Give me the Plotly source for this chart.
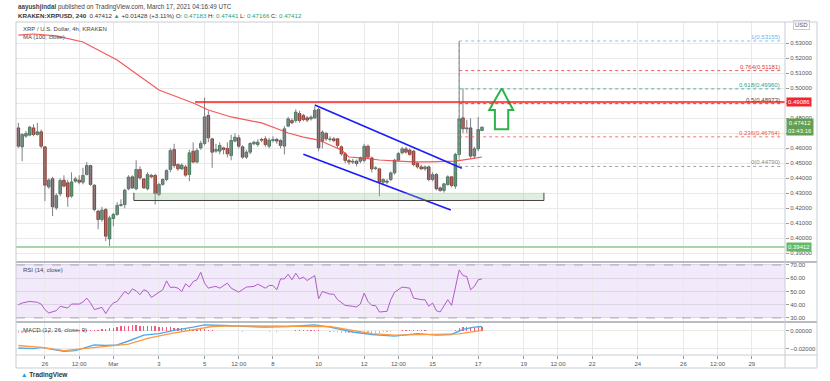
import pandas as pd
import plotly.graph_objects as go

# ---------------- data ----------------
opens = [.4736,.4610,.4681,.4688,.4736,.4692,.4710,.4610,.4343,.4397,.4203,.4296,.4388,.4370,.4281,.4381,.4388,.4374,.4425,.4485,
         .4354,.4181,.4125,.4192,.3996,.4132,.4159,.4219,.4225,.4330,.4410,.4330,.4459,.4396,.4330,.4419,.4419,.4292,.4359,.4392,
         .4459,.4592,.4492,.4463,.4476,.4425,.4581,.4508,.4603,.4632,.4819,.4663,.4581,.4581,.4603,.4599,.4552,.4648,.4670,.4610,
         .4541,.4574,.4630,.4625,.4659,.4663,.4614,.4652,.4659,.4652,.4614,.4748,.4785,.4785,.4832,.4819,.4803,.4796,.4803,.4859,
         .4648,.4699,.4659,.4663,.4663,.4610,.4563,.4519,.4508,.4514,.4514,.4519,.4614,.4536,.4465,.4463,.4374,.4381,.4392,.4436,
         .4521,.4570,.4596,.4588,.4581,.4499,.4476,.4463,.4476,.4392,.4425,.4336,.4319,.4359,.4410,.4348,.4559,.4803,.4730,.4736,
         .4548,.4596,.47183]
highs = [.4770,.4700,.4715,.4750,.4760,.4770,.4725,.4614,.4400,.4410,.4300,.4400,.4420,.4390,.4440,.4410,.4420,.4470,.4508,.4490,
         .4360,.4190,.4210,.4203,.4150,.4170,.4240,.4260,.4330,.4420,.4420,.4520,.4480,.4400,.4440,.4430,.4430,.4370,.4400,.4460,
         .4600,.4630,.4500,.4500,.4490,.4590,.4640,.4600,.4650,.4938,.4850,.4670,.4630,.4640,.4610,.4640,.4690,.4700,.4690,.4620,
         .4590,.4640,.4650,.4660,.4670,.4680,.4670,.4680,.4670,.4660,.4748,.4810,.4800,.4860,.4850,.4830,.4815,.4820,.4880,.4870,
         .4720,.4710,.4680,.4675,.4670,.4620,.4575,.4530,.4530,.4525,.4545,.4630,.4625,.4545,.4480,.4470,.4400,.4395,.4445,.4530,
         .4575,.4610,.4610,.4600,.4590,.4510,.4490,.4485,.4485,.4440,.4435,.4345,.4370,.4420,.4415,.4570,.5316,.5000,.4790,.4800,
         .4610,.4809,.47441]
lows = [.4603,.4514,.4670,.4680,.4680,.4685,.4600,.4248,.4330,.4148,.4190,.4280,.4340,.4210,.4270,.4370,.4360,.4360,.4420,.4350,
        .4180,.4060,.4110,.3981,.3936,.4080,.4150,.4210,.4200,.4320,.4330,.4320,.4390,.4330,.4320,.4400,.4225,.4280,.4350,.4380,
        .4440,.4470,.4450,.4455,.4410,.4380,.4500,.4500,.4590,.4620,.4640,.4470,.4570,.4560,.4560,.4540,.4520,.4640,.4600,.4530,
        .4530,.4560,.4620,.4610,.4640,.4610,.4600,.4640,.4630,.4600,.4559,.4740,.4760,.4770,.4770,.4780,.4775,.4785,.4795,.4580,
        .4600,.4650,.4645,.4640,.4600,.4550,.4500,.4490,.4495,.4480,.4500,.4505,.4530,.4440,.4455,.4280,.4360,.4360,.4380,.4425,
        .4510,.4560,.4565,.4550,.4480,.4465,.4455,.4450,.4380,.4380,.4320,.4310,.4305,.4350,.4340,.4330,.4540,.4700,.4700,.4530,
        .4530,.4580,.47166]
closes = [.4614,.4692,.4699,.4741,.4692,.4710,.4614,.4354,.4388,.4210,.4285,.4385,.4348,.4276,.4376,.4396,.4374,.4419,.4485,.4359,
          .4192,.4125,.4188,.4014,.4136,.4159,.4219,.4225,.4321,.4408,.4336,.4459,.4403,.4336,.4425,.4410,.4299,.4359,.4392,.4452,
          .4585,.4485,.4463,.4488,.4421,.4570,.4508,.4585,.4632,.4810,.4670,.4574,.4592,.4619,.4592,.4563,.4652,.4674,.4614,.4541,
          .4574,.4632,.4641,.4641,.4654,.4625,.4654,.4659,.4648,.4619,.4730,.4796,.4770,.4841,.4785,.4792,.4788,.4808,.4854,.4603,
          .4708,.4663,.4663,.4652,.4619,.4563,.4519,.4508,.4514,.4499,.4536,.4614,.4541,.4463,.4470,.4374,.4392,.4374,.4436,.4521,
          .4565,.4596,.4574,.4559,.4492,.4476,.4463,.4476,.4392,.4425,.4330,.4319,.4363,.4410,.4352,.4559,.4796,.4730,.4736,.4548,
          .4596,.4725,.47412]

ma_idx = [0, 4, 10, 17, 26, 37, 46, 50, 56, 64, 69, 71, 75, 79, 85, 87, 91, 95, 100, 104, 108, 113, 115, 119, 122]
ma_val = [0.5355, 0.5362, 0.5349, 0.5309, 0.5189, 0.4989, 0.4902, 0.4855, 0.4809, 0.4769, 0.4722, 0.4702, 0.4675,
          0.4655, 0.4589, 0.4542, 0.4535, 0.4522, 0.4515, 0.4509, 0.4509, 0.4515, 0.4515, 0.4529, 0.4542]

rsi_idx = [0,1,3,5,6,7,8,10,11,13,14,16,17,18,19,20,22,23,24,25,26,28,29,30,31,32,33,34,35,37,38,39,40,41,42,43,44,45,46,47,
           48,49,50,51,52,53,55,56,58,60,62,63,65,66,67,68,69,70,71,72,73,74,75,76,77,78,79,80,82,83,84,86,88,89,90,91,92,93,
           94,95,97,98,99,101,103,104,106,107,108,109,110,111,113,114,116,117,118,119,120,121,122]
rsi_val = [40,41.3,42.5,41.8,40.5,36.3,33.8,35.5,38.8,37.5,40.5,40.5,42,45,41.3,36.3,38,33.3,38,41.3,42.5,50,48,52,50.5,47.5,
           51.3,50,45.5,49.5,51.3,58,53,53.3,52.5,50,55.8,53.3,57.5,58.8,64.5,56.3,52.5,53.3,53.8,52.5,56.3,52.5,49.5,53.3,53.8,
           55.5,52.5,54.5,54.5,51.3,59.5,59.5,63,58.8,63.8,59.5,60.8,58.3,60,62,44.5,50,48,48,43.8,39.5,38.8,38.3,40.5,48.8,42.5,
           39.5,39.3,34.5,35,43.8,49.5,53.3,52.5,45,43.8,43.8,38.8,41.3,35.5,34.5,43.8,39.5,66.3,62,61.3,51.3,53.8,58.8,59.5]

macd_idx = [0, 4, 6, 9, 12, 15, 18, 20, 23, 26, 29, 33, 37, 41, 46, 49, 54, 60, 65, 71, 78, 82, 88, 93, 99, 105, 110, 114, 117, 120, 122]
macd_val = [-0.0189, -0.0196, -0.0182, -0.0207, -0.0225, -0.0218, -0.0182, -0.0154, -0.0161, -0.0154, -0.0111, -0.0046,
            -0.0029, 0.0007, 0.0043, 0.0068, 0.0061, 0.0054, 0.0043, 0.0050, 0.0068, 0.0043, -0.0011, -0.0039, -0.0057,
            -0.0029, -0.0046, -0.0039, 0.0018, 0.0043, 0.0050]
signal_idx = [0, 6, 12, 18, 23, 29, 34, 40, 46, 51, 57, 65, 74, 82, 88, 93, 99, 105, 110, 116, 122]
signal_val = [-0.0161, -0.0182, -0.0218, -0.0196, -0.0171, -0.0146, -0.0082, -0.0029, 0.0018, 0.0050, 0.0057, 0.0054,
              0.0050, 0.0050, 0.0007, -0.0029, -0.0046, -0.0039, -0.0039, -0.0032, 0.0007]
hist_val = [-2.5,-2.6,-2.4,-2.2,-2.0,-1.8,-1.5,-1.5,-1.8,-1.6,-1.2,-0.8,-0.5,-0.6,-0.3,0.2,0.8,1.2,1.6,1.3,1.0,1.5,2.0,2.3,
            2.8,3.2,4.0,5.0,5.5,6.0,6.5,6.2,5.8,6.0,5.5,5.0,5.2,4.8,4.2,4.5,4.0,3.5,3.2,2.8,2.6,2.2,2.0,2.2,2.5,1.8,1.2,0.8,
            0.5,0.3,0.2,0.0,-0.2,-0.4,-0.5,-0.6,-0.4,-0.3,-0.2,-0.3,-0.4,-0.5,-0.6,-0.5,-0.6,-0.3,0.0,0.3,0.5,0.7,0.8,1.0,1.2,
            1.4,1.6,0.8,0.2,-0.3,-0.8,-1.2,-1.6,-2.0,-2.3,-2.5,-2.6,-2.4,-2.2,-1.8,-1.8,-1.7,-1.8,-1.9,-1.6,-1.2,-0.8,-0.2,
            0.4,0.9,1.2,1.3,1.1,0.9,0.8,0.7,0.4,0.2,0.0,-0.2,0.2,0.3,0.2,1.5,3.5,4.5,4.8,4.0,3.8,4.0,4.2]

price_ticks = [0.39, 0.40, 0.41, 0.42, 0.43, 0.44, 0.45, 0.46, 0.47, 0.48, 0.49, 0.50, 0.51, 0.52, 0.53]
price_hidden = [0.47, 0.49]          # covered by the price boxes in the reference
resistance_level = 0.49086
resistance_start = "2021-03-04 14:00"
support_line = 0.39412
support_box = ("2021-03-01 21:36", "2021-03-19 21:12", 0.4252, 0.4303)
channel_upper = (["2021-03-09 20:00", "2021-03-16 06:48"], [0.4889, 0.4467])
channel_lower = (["2021-03-09 08:00", "2021-03-15 19:12"], [0.4560, 0.4189])
fib_levels = [1, 0.764, 0.618, 0.5, 0.236, 0]
fib_prices = [0.53155, 0.51181, 0.49960, 0.48973, 0.46764, 0.44790]
fib_colors = ["#64b5f6", "#e53935", "#26a69a", "#5d4037", "#ef5350", "#8c8c8c"]
fib_start, fib_end = "2021-03-16 04:00", "2021-03-30 08:00"
arrow_x = ["2021-03-18 00:48", "2021-03-18 12:48", "2021-03-18 07:36", "2021-03-18 07:36", "2021-03-17 17:36",
           "2021-03-17 17:36", "2021-03-17 11:36", "2021-03-18 00:48"]
arrow_y = [0.5000, 0.4855, 0.4855, 0.4727, 0.4727, 0.4855, 0.4855, 0.5000]

tick_vals = ["2021-02-26", "2021-02-27 12:00", "2021-03-01", "2021-03-03", "2021-03-05", "2021-03-06 12:00", "2021-03-08",
             "2021-03-10", "2021-03-12", "2021-03-13 12:00", "2021-03-15", "2021-03-17", "2021-03-19", "2021-03-20 12:00",
             "2021-03-22", "2021-03-24", "2021-03-26", "2021-03-27 12:00", "2021-03-29"]
tick_text = ["26", "12:00", "Mar", "3", "5", "12:00", "8", "10", "12", "12:00", "15", "17", "19", "12:00", "22", "24",
             "26", "12:00", "29"]

# ---------------- figure ----------------
times = pd.date_range("2021-02-24 20:00", periods=len(opens), freq="4h")
FONT = "Liberation Sans"
GRID = "#e9e9e9"
BORDER = "#c9ccd3"

fig = go.Figure()

# wicks
wx, wy = [], []
for t, h, l in zip(times, highs, lows):
    wx += [t, t, None]
    wy += [l, h, None]
fig.add_trace(go.Scatter(x=wx, y=wy, mode="lines", line=dict(color="#7d8088", width=1),
                         hoverinfo="skip", showlegend=False, xaxis="x", yaxis="y"))

# bodies
bw = 4 * 3600 * 1000 * 0.68
for up, fill, edge in [(True, "#6ba583", "#225437"), (False, "#d75442", "#5b1a13")]:
    sel = [i for i in range(len(opens)) if (closes[i] >= opens[i]) == up]
    fig.add_trace(go.Bar(
        x=[times[i] for i in sel],
        y=[max(abs(closes[i] - opens[i]), 0.0002) for i in sel],
        base=[min(opens[i], closes[i]) for i in sel],
        width=bw, marker=dict(color=fill, line=dict(color=edge, width=0.7)),
        showlegend=False, hoverinfo="skip", xaxis="x", yaxis="y"))

# MA 100
fig.add_trace(go.Scatter(x=[times[i] for i in ma_idx], y=ma_val, mode="lines",
                         line=dict(color="rgba(240,60,60,0.85)", width=1.2), showlegend=False,
                         xaxis="x", yaxis="y"))

# channel
for xs, ys in (channel_upper, channel_lower):
    fig.add_trace(go.Scatter(x=xs, y=ys, mode="lines", line=dict(color="#1a1aff", width=1.6),
                             showlegend=False, xaxis="x", yaxis="y"))

# arrow
fig.add_trace(go.Scatter(x=arrow_x, y=arrow_y, mode="lines", line=dict(color="#2db34a", width=2),
                         fill="toself", fillcolor="rgba(255,255,255,0)", showlegend=False,
                         xaxis="x", yaxis="y"))

# RSI
fig.add_trace(go.Scatter(x=[times[i] for i in rsi_idx], y=rsi_val, mode="lines",
                         line=dict(color="#b05cc6", width=1), showlegend=False, xaxis="x2", yaxis="y2"))

# MACD
hist = [v / 1000 for v in hist_val]
fig.add_trace(go.Bar(x=times, y=hist, width=4 * 3600 * 1000 * 0.35,
                     marker=dict(color=["#ef5b7d" if v >= 0 else "#f7a1b5" for v in hist], line=dict(width=0)),
                     showlegend=False, xaxis="x3", yaxis="y3"))
fig.add_trace(go.Scatter(x=[times[i] for i in macd_idx], y=macd_val, mode="lines",
                         line=dict(color="#4aa8f0", width=1.4), showlegend=False, xaxis="x3", yaxis="y3"))
fig.add_trace(go.Scatter(x=[times[i] for i in signal_idx], y=signal_val, mode="lines",
                         line=dict(color="#ff9a3c", width=1.4), showlegend=False, xaxis="x3", yaxis="y3"))

xr = ["2021-02-24 17:32", "2021-03-30 10:56"]
common_x = dict(type="date", range=xr, tickvals=tick_vals, ticktext=tick_text, showgrid=True, gridcolor=GRID,
                gridwidth=1, zeroline=False, showline=False, fixedrange=True)
axis_font = dict(family=FONT, size=6, color="#555")

shapes = []
# RSI band
shapes.append(dict(type="rect", xref="x2 domain", x0=0, x1=1, yref="y2", y0=30, y1=70,
                   fillcolor="rgba(170,110,230,0.15)", line=dict(width=0), layer="below"))
for lv in (30, 70):
    shapes.append(dict(type="line", xref="x2 domain", x0=0, x1=1, yref="y2", y0=lv, y1=lv,
                       line=dict(color="#a9a9b5", width=1, dash="dash")))
# support box
shapes.append(dict(type="rect", xref="x", yref="y", x0=support_box[0], x1=support_box[1], y0=support_box[2],
                   y1=support_box[3], fillcolor="rgba(150,200,150,0.3)", line=dict(width=0)))
for seg in [((support_box[0], support_box[2]), (support_box[1], support_box[2])),
            ((support_box[0], support_box[2]), (support_box[0], support_box[3])),
            ((support_box[1], support_box[2]), (support_box[1], support_box[3]))]:
    shapes.append(dict(type="line", xref="x", yref="y", x0=seg[0][0], y0=seg[0][1], x1=seg[1][0], y1=seg[1][1],
                       line=dict(color="#444", width=1)))
# resistance & support lines
shapes.append(dict(type="line", xref="x", yref="y", x0=resistance_start, x1=xr[1], y0=resistance_level,
                   y1=resistance_level, line=dict(color="#ff1a1a", width=1.5)))
shapes.append(dict(type="line", xref="x", yref="y", x0=xr[0], x1=xr[1], y0=support_line, y1=support_line,
                   line=dict(color="#a8d5a8", width=2)))
# fib lines
for p, c in zip(fib_prices, fib_colors):
    shapes.append(dict(type="line", xref="x", yref="y", x0=fib_start, x1=fib_end, y0=p, y1=p,
                       line=dict(color=c, width=1, dash="dot"), opacity=0.8))
shapes.append(dict(type="line", xref="x", yref="y", x0=fib_start, x1=times[116], y0=fib_prices[-1], y1=fib_prices[0],
                   line=dict(color="#999", width=1, dash="dot")))
# pane borders / separators (paper coords of plot area)
W = (817 - 16) / 769
for yp in (0.2793, 0.0991):
    shapes.append(dict(type="line", xref="paper", yref="paper", x0=0, x1=W, y0=yp, y1=yp,
                       line=dict(color="#b8bbc2", width=2)))
shapes.append(dict(type="rect", xref="paper", yref="paper", x0=0, x1=W, y0=-0.039, y1=1.0,
                   line=dict(color=BORDER, width=1)))
shapes.append(dict(type="line", xref="paper", yref="paper", x0=1, x1=1, y0=-0.039, y1=1.0,
                   line=dict(color=BORDER, width=1)))
shapes.append(dict(type="line", xref="paper", yref="paper", x0=0, x1=W, y0=0, y1=0,
                   line=dict(color=BORDER, width=1)))

ann = []
def txt(x, y, s, size=6, color="#333", xanchor="left", yanchor="middle", xref="paper", yref="paper", **kw):
    ann.append(dict(x=x, y=y, xref=xref, yref=yref, text=s, showarrow=False, xanchor=xanchor, yanchor=yanchor,
                    font=dict(family=FONT, size=size, color=color), **kw))

G = "#2e9e78"
txt(0, 1.045, "<b>aayushjindal</b> published on TradingView.com, March 17, 2021 04:16:49 UTC", size=6.3, color="#444")
txt(0, 1.021, "<b>KRAKEN:XRPUSD, 240</b>  0.47412 <span style='color:%s'>▲</span> +0.01428 (+3.11%%) "
              "O: <span style='color:%s'>0.47183</span> H: <span style='color:%s'>0.47441</span> "
              "L: <span style='color:%s'>0.47166</span> C: <span style='color:%s'>0.47412</span>" % (G, G, G, G, G),
    size=6.2, color="#333")
txt(0.006, 0.979, "XRP / U.S. Dollar, 4h, KRAKEN", size=6, color="#444")
txt(0.006, 0.955, "MA (100, close)", size=6, color="#444")
txt(0.006, 0.2553, "RSI (14, close)", size=6, color="#444")
txt(0.006, 0.0751, "MACD (12, 26, close, 9)", size=6, color="#444")
txt(0.004, -0.06, "<span style='color:#2196f3'>▲</span> <b>TradingView</b>", size=6.5, color="#333")
txt(1, 1.0, "USD", size=6, color="#555", xshift=8, yshift=-3, bordercolor="#ccc", borderwidth=1, borderpad=1)
for lv, p, c in zip(fib_levels, fib_prices, fib_colors):
    txt(fib_end, p, "%s(%.5f)" % (lv, p), size=6, color=c, xanchor="right", yanchor="bottom",
        xref="x", yref="y", yshift=-1)
for val, s, bg in [(resistance_level, "0.49086", "#f2262b"), (0.47412, "0.47412<br>03:43:16", "#5fa052"),
                   (support_line, "0.39412", "#64b864")]:
    txt(1, val, s, size=6, color="white", xref="paper", yref="y", bgcolor=bg, xshift=1, borderpad=1)

price_text = ["" if any(abs(p - h) < 1e-9 for h in price_hidden) else "%.5f" % p for p in price_ticks]

fig.update_layout(
    width=830, height=381, margin=dict(l=16, r=45, t=22, b=26),
    paper_bgcolor="white", plot_bgcolor="white", barmode="overlay", bargap=0,
    showlegend=False, shapes=shapes, annotations=ann, hovermode=False,
    xaxis=dict(common_x, anchor="y", domain=[0, 1], showticklabels=False, rangeslider=dict(visible=False)),
    xaxis2=dict(common_x, anchor="y2", domain=[0, 1], matches="x", showticklabels=False),
    xaxis3=dict(common_x, anchor="y3", domain=[0, 1], matches="x", showticklabels=True, ticks="outside",
                ticklen=3, tickcolor="#999", tickfont=axis_font),
    yaxis=dict(domain=[0.2793, 1], side="right", range=[0.3842, 0.5442], tickvals=price_ticks, ticktext=price_text,
               showgrid=True, gridcolor=GRID, zeroline=False, ticks="outside", ticklen=3, tickcolor="#999",
               tickfont=axis_font, fixedrange=True),
    yaxis2=dict(domain=[0.1021, 0.2763], side="right", range=[27.7, 71.5], tickvals=[30, 40, 50, 60, 70],
                tickformat=".2f", showgrid=True, gridcolor="#dcd3e6", zeroline=False, ticks="outside", ticklen=3,
                tickcolor="#999", tickfont=axis_font, fixedrange=True),
    yaxis3=dict(domain=[0, 0.0991], side="right", range=[-0.0267, 0.01], tickvals=[0, -0.02], tickformat=".5f",
                showgrid=True, gridcolor=GRID, zeroline=False, ticks="outside", ticklen=3, tickcolor="#999",
                tickfont=axis_font, fixedrange=True),
)

fig.write_html("out.html", config={"displayModeBar": False, "staticPlot": True},
               post_script="document.body.style.margin='0px';document.body.style.overflow='hidden';")
